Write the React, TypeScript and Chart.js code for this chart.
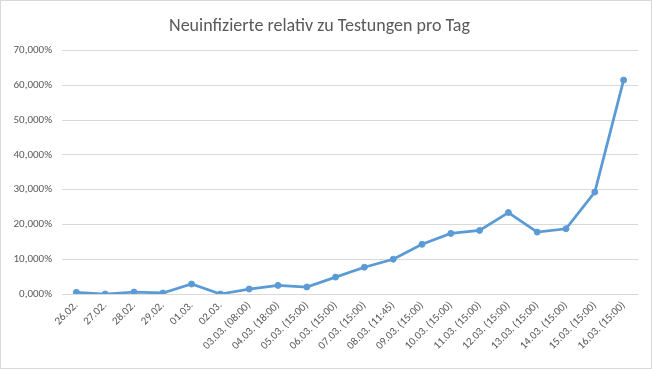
import React, { useEffect, useRef } from "react";
import { Chart, registerables } from "chart.js";

Chart.register(...registerables);

const categories: string[] = [
  "26.02.", "27.02.", "28.02.", "29.02.", "01.03.", "02.03.",
  "03.03. (08:00)", "04.03. (18:00)", "05.03. (15:00)", "06.03. (15:00)",
  "07.03. (15:00)", "08.03. (11:45)", "09.03. (15:00)", "10.03. (15:00)",
  "11.03. (15:00)", "12.03. (15:00)", "13.03. (15:00)", "14.03. (15:00)",
  "15.03. (15:00)", "16.03. (15:00)",
];

const neuinfiziertePct: number[] = [
  0.48, 0.0, 0.57, 0.29, 2.86, 0.0, 1.43, 2.48, 2.0, 4.86,
  7.71, 10.0, 14.29, 17.43, 18.29, 23.43, 17.81, 18.76, 29.33, 61.52,
];

const yMin = 0;
const yMax = 70;
const yStep = 10;

const titleText = "Neuinfizierte relativ zu Testungen pro Tag";
const FONT = "Carlito, Calibri, Lato, sans-serif";

export default function App() {
  const ref = useRef<HTMLCanvasElement | null>(null);
  useEffect(() => {
    document.body.style.margin = "0";
    if (!ref.current) return;
    const chart = new Chart(ref.current, {
      type: "line",
      data: {
        labels: categories,
        datasets: [
          {
            data: neuinfiziertePct,
            borderColor: "#5B9BD5",
            backgroundColor: "#5B9BD5",
            borderWidth: 2.75,
            pointRadius: 3,
            pointBackgroundColor: "#5B9BD5",
            pointBorderColor: "#5B9BD5",
            pointBorderWidth: 1,
            tension: 0,
          },
        ],
      },
      options: {
        animation: false,
        responsive: false,
        maintainAspectRatio: false,
        layout: { padding: { left: 0, right: 13, top: 0, bottom: 0 } },
        plugins: {
          legend: { display: false },
          tooltip: { enabled: false },
          title: {
            display: true,
            text: titleText,
            color: "#595959",
            font: { family: FONT, size: 18, weight: "normal" },
            padding: { top: 15, bottom: 13 },
          },
        },
        scales: {
          x: {
            offset: true,
            grid: { display: false, drawTicks: false },
            border: { display: false },
            afterFit: (s: any) => {
              s.height = 74;
            },
            ticks: {
              color: "#595959",
              font: { family: FONT, size: 11 },
              minRotation: 45,
              maxRotation: 45,
              autoSkip: false,
              padding: 5,
            },
          },
          y: {
            min: yMin,
            max: yMax,
            grid: { color: "#d9d9d9", drawTicks: false, lineWidth: 1 },
            border: { display: false },
            afterFit: (s: any) => {
              s.width = 61;
            },
            ticks: {
              stepSize: yStep,
              color: "#595959",
              font: { family: FONT, size: 11 },
              padding: 10,
              callback: (v: any) => Number(v).toFixed(3).replace(".", ",") + "%",
            },
          },
        },
      },
    });
    return () => chart.destroy();
  }, []);
  return (
    <div
      style={{
        position: "absolute",
        left: 0,
        top: 0,
        width: 652,
        height: 369,
        boxSizing: "border-box",
        border: "1px solid #d9d9d9",
        background: "#fff",
      }}
    >
      <canvas ref={ref} width={650} height={367} style={{ display: "block" }} />
    </div>
  );
}
